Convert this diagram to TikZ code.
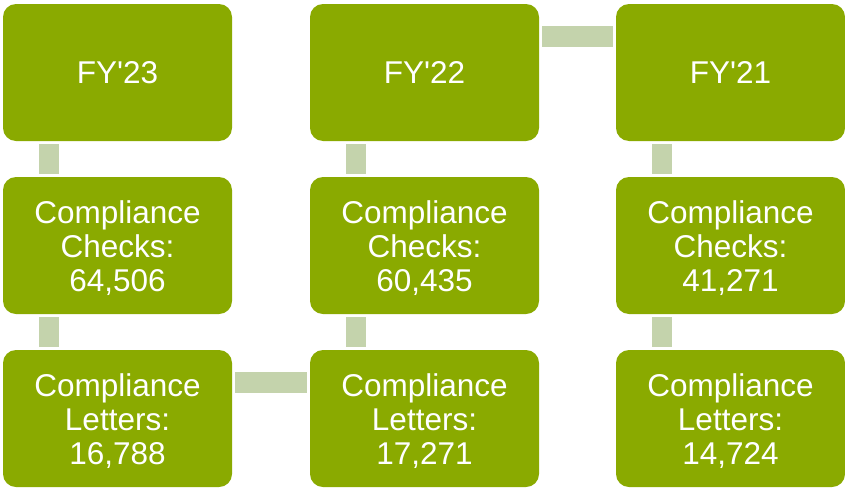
\documentclass[tikz,border=0pt]{standalone}
\usepackage{fontspec}
\setmainfont{Liberation Sans}
\usetikzlibrary{calc}
\definecolor{boxgreen}{HTML}{8AAA00}
\definecolor{conngreen}{HTML}{C4D3AC}
\tikzset{
  gbox/.style={fill=boxgreen, draw=none, rounded corners=13pt, minimum width=229pt, minimum height=137pt,
    text=white, align=center, inner sep=0pt, font=\fontsize{31.5}{34}\selectfont},
  conn/.style={fill=conngreen, draw=none}
}
\newsavebox{\mytlbox}
\newcommand{\fy}[1]{FY\textquotesingle#1}
\newcommand{\tl}[1]{\sbox{\mytlbox}{\parbox{229pt}{\centering #1}}\raisebox{-2.5pt}[\ht\mytlbox][\dp\mytlbox]{\usebox{\mytlbox}}}
\begin{document}
\begin{tikzpicture}[x=1pt,y=-1pt]
\useasboundingbox (0,0) rectangle (845,490);
\node[gbox] (a1) at (117.5,72.5) {\fy{23}};
\node[gbox] (a2) at (117.5,245.5) {\tl{Compliance\\Checks:\\64,506}};
\node[gbox] (a3) at (117.5,418.5) {\tl{Compliance\\Letters:\\16,788}};
\node[gbox] (b1) at (424.5,72.5) {\fy{22}};
\node[gbox] (b2) at (424.5,245.5) {\tl{Compliance\\Checks:\\60,435}};
\node[gbox] (b3) at (424.5,418.5) {\tl{Compliance\\Letters:\\17,271}};
\node[gbox] (c1) at (730.5,72.5) {\fy{21}};
\node[gbox] (c2) at (730.5,245.5) {\tl{Compliance\\Checks:\\41,271}};
\node[gbox] (c3) at (730.5,418.5) {\tl{Compliance\\Letters:\\14,724}};
% vertical connectors
\foreach \u/\v in {a1/a2,a2/a3,b1/b2,b2/b3,c1/c2,c2/c3}{
  \fill[conn] ($(\u.south west)+(36,3)$) rectangle ($(\v.north west)+(56,-3)$);
}
% horizontal connectors
\fill[conn] ($(a3.north east)+(3,22)$) rectangle ($(b3.north west)+(-3,43)$);
\fill[conn] ($(b1.north east)+(3,22)$) rectangle ($(c1.north west)+(-3,43)$);
\end{tikzpicture}
\end{document}
